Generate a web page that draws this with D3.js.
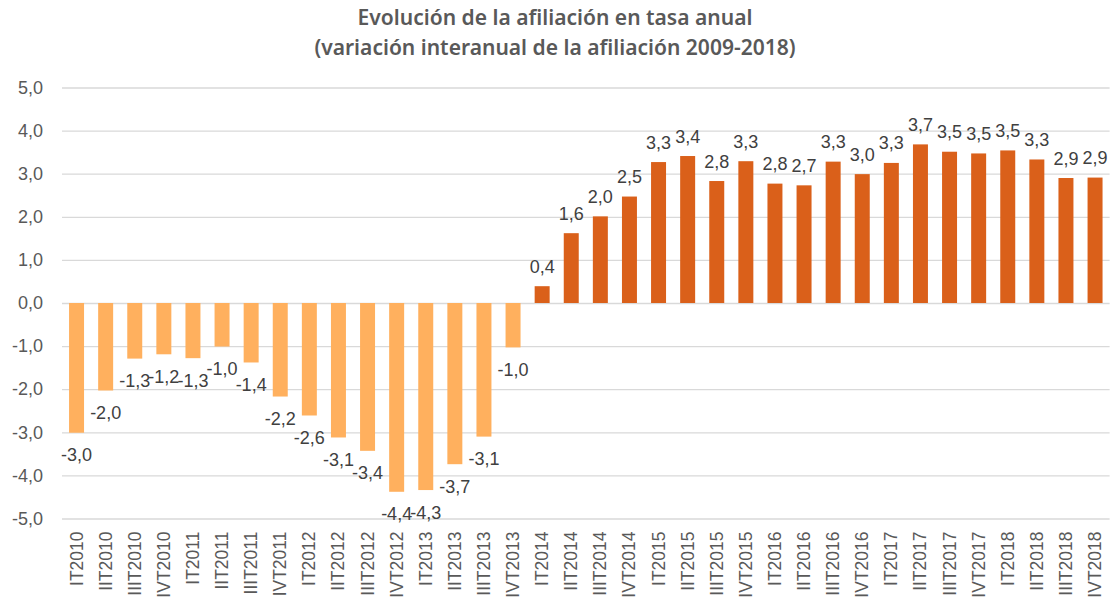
<!DOCTYPE html>
<html>
<head>
<meta charset="utf-8">
<script src="https://cdn.jsdelivr.net/npm/d3@7"></script>
<style>
  html, body { margin: 0; padding: 0; background: #ffffff; }
  svg { display: block; }
</style>
</head>
<body>
<div id="chart"></div>
<script>
const titleLines = ["Evolución de la afiliación en tasa anual", "(variación interanual de la afiliación 2009-2018)"];
const categories = [
  "IT2010","IIT2010","IIIT2010","IVT2010",
  "IT2011","IIT2011","IIIT2011","IVT2011",
  "IT2012","IIT2012","IIIT2012","IVT2012",
  "IT2013","IIT2013","IIIT2013","IVT2013",
  "IT2014","IIT2014","IIIT2014","IVT2014",
  "IT2015","IIT2015","IIIT2015","IVT2015",
  "IT2016","IIT2016","IIIT2016","IVT2016",
  "IT2017","IIT2017","IIIT2017","IVT2017",
  "IT2018","IIT2018","IIIT2018","IVT2018"
];
const values = [
  -3.01, -2.03, -1.29, -1.19,
  -1.28, -1.01, -1.38, -2.17,
  -2.61, -3.12, -3.43, -4.38,
  -4.34, -3.74, -3.10, -1.03,
  0.39, 1.62, 2.01, 2.47,
  3.27, 3.41, 2.83, 3.29,
  2.77, 2.73, 3.28, 2.99,
  3.25, 3.68, 3.51, 3.47,
  3.54, 3.33, 2.90, 2.91
];
const yTicks = [-5, -4, -3, -2, -1, 0, 1, 2, 3, 4, 5];

const W = 1110, H = 597;
const margin = { left: 62, right: 0.4, top: 87.5, bottom: 78.5 };

const svg = d3.select("#chart").append("svg")
  .attr("width", W).attr("height", H);

const x = d3.scaleBand()
  .domain(categories)
  .range([margin.left, W - margin.right])
  .paddingInner(0.485)
  .paddingOuter(0.2425);

const y = d3.scaleLinear()
  .domain([-5, 5])
  .range([H - margin.bottom, margin.top]);

const fmt = v => d3.format(".1f")(v).replace("−", "-").replace(".", ",");

// Title
const titleSel = svg.append("g").selectAll("text").data(titleLines).join("text")
  .attr("x", 555)
  .attr("y", (d, i) => 25 + i * 30)
  .attr("text-anchor", "middle")
  .attr("font-family", "'Noto Sans', Lato, sans-serif")
  .attr("font-weight", 600)
  .attr("font-size", 20)
  .attr("fill", "#595959")
  .text(d => d);
// fit first line to the reference's width (~395px)
const w0 = titleSel.node().getComputedTextLength();
if (w0 > 0) titleSel.attr("font-size", 20 * 395 / w0);

// Gridlines + y tick labels via axis
const yAxis = d3.axisLeft(y)
  .tickValues(yTicks)
  .tickSize(-(W - margin.right - margin.left))
  .tickPadding(19)
  .tickFormat(fmt);

const gy = svg.append("g")
  .attr("transform", `translate(${margin.left},0)`)
  .call(yAxis);
gy.select(".domain").remove();
gy.selectAll(".tick line").attr("stroke", "#d9d9d9").attr("stroke-width", 1.3);
gy.selectAll(".tick text")
  .attr("font-family", "'Liberation Sans', Arial, sans-serif")
  .attr("font-size", 18)
  .attr("fill", "#595959");

// Bars
svg.append("g").selectAll("rect").data(values).join("rect")
  .attr("x", (d, i) => x(categories[i]))
  .attr("width", x.bandwidth())
  .attr("y", d => y(Math.max(0, d)))
  .attr("height", d => Math.abs(y(d) - y(0)))
  .attr("fill", d => d < 0 ? "#ffb05e" : "#da601a");

// Data labels
svg.append("g").selectAll("text").data(values).join("text")
  .attr("x", (d, i) => x(categories[i]) + x.bandwidth() / 2)
  .attr("y", d => d < 0 ? y(d) + 28.5 : y(d) - 13.5)
  .attr("text-anchor", "middle")
  .attr("font-family", "'Liberation Sans', Arial, sans-serif")
  .attr("font-size", 18)
  .attr("fill", "#404040")
  .text(d => fmt(d));

// X axis labels (rotated)
const xAxis = d3.axisBottom(x).tickSize(0).tickPadding(0);
const gx = svg.append("g")
  .attr("transform", `translate(0,${H - margin.bottom})`)
  .call(xAxis);
gx.select(".domain").remove();
gx.selectAll(".tick text")
  .attr("font-family", "'Liberation Sans', Arial, sans-serif")
  .attr("font-size", 17.5)
  .attr("fill", "#595959")
  .attr("text-anchor", "end")
  .attr("dy", null)
  .attr("transform", "translate(6,13) rotate(-90)")
  .attr("x", 0)
  .attr("y", 0);
</script>
</body>
</html>
